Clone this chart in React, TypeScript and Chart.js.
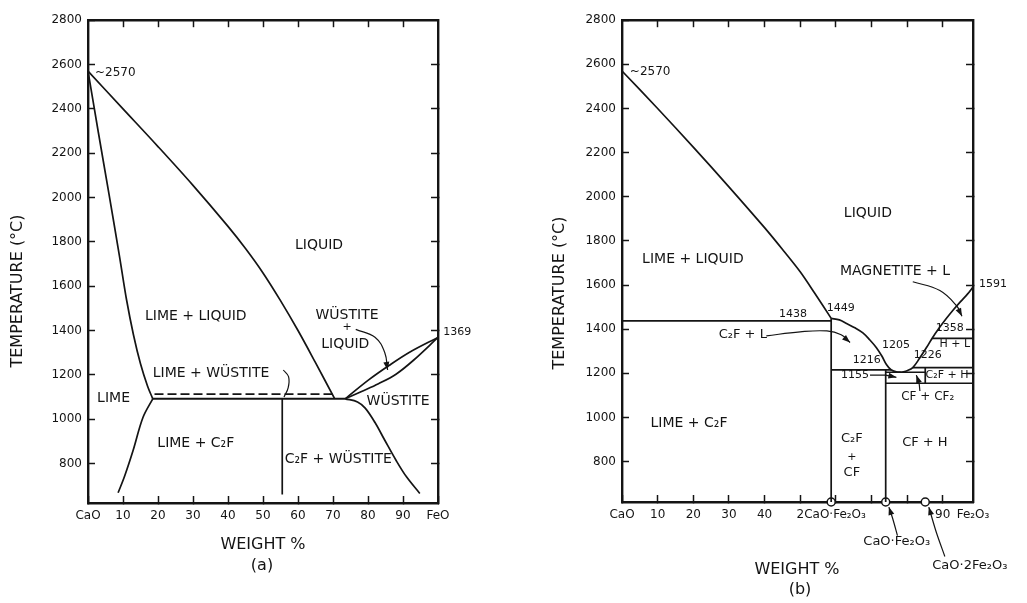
import React, { useEffect, useRef } from "react";
import { Chart, registerables } from "chart.js";
Chart.register(...registerables);

const FONT = "'DejaVu Sans', 'Liberation Sans', sans-serif";
const INK = "#141414";

// ---------- shared ticks ----------
const tempTicks = [800, 1000, 1200, 1400, 1600, 1800, 2000, 2200, 2400, 2600, 2800];
const tempTickLabels = ["800", "1000", "1200", "1400", "1600", "1800", "2000", "2200", "2400", "2600", "2800"];
const sideTempTicks = [800, 1000, 1200, 1400, 1600, 1800, 2000, 2200, 2400, 2600];
const topWeightTicks = [10, 20, 30, 40, 50, 60, 70, 80, 90];

// ---------- panel (a): CaO - FeO ----------
const aWeightTicks = [0, 10, 20, 30, 40, 50, 60, 70, 80, 90, 100];
const aWeightLabels = ["CaO", "10", "20", "30", "40", "50", "60", "70", "80", "90", "FeO"];

const aLiquidusX = [0, 10, 20, 30, 40, 45, 50, 55, 60, 65, 70.5];
const aLiquidusT = [2570, 2400, 2230, 2055, 1870, 1770, 1660, 1535, 1400, 1255, 1092];
const aLimeLiqX = [0, 3, 6, 9, 11, 13, 15, 17, 18.5];
const aLimeLiqT = [2570, 2290, 2015, 1735, 1540, 1380, 1250, 1150, 1092];
const aLimeSolvX = [18.5, 15.7, 12.9, 10.5, 8.6];
const aLimeSolvT = [1092, 1008, 860, 745, 668];
const aEutecticX = [18.5, 73.5];
const aEutecticT = [1092, 1092];
const aDashX = [19, 71];
const aDashT = [1113, 1113];
const aC2FX = [55.5, 55.5];
const aC2FT = [1092, 660];
const aWusSolvX = [73.5, 77, 79.2, 82, 84.8, 88, 91, 94.8];
const aWusSolvT = [1092, 1078, 1050, 985, 905, 815, 740, 665];
const aWusLiqX = [73.5, 80, 86, 92, 100];
const aWusLiqT = [1092, 1175, 1242, 1303, 1369];
const aWusSolX = [73.5, 78, 83, 88, 93, 100];
const aWusSolT = [1092, 1124, 1160, 1203, 1266, 1369];
const aArrowWLX = [76.5, 82, 84.8, 85.6];
const aArrowWLT = [1405, 1370, 1300, 1222];
const aBracketX = [55.8, 57.3, 57.2, 56];
const aBracketT = [1222, 1192, 1142, 1100];

// ---------- panel (b): CaO - Fe2O3 ----------
const bWeightTicks = [0, 10, 20, 30, 40, 50, 58.7, 60, 70, 80, 90, 98.5];
const bWeightLabels = ["CaO", "10", "20", "30", "40", "", "2CaO·Fe₂O₃", "", "", "", "90", "Fe₂O₃"];
const bHiddenTickMarks = [58.7, 98.5];

const bLiquidusX = [0, 10, 20, 30, 40, 45, 50, 54, 58.7];
const bLiquidusT = [2570, 2400, 2225, 2045, 1860, 1762, 1660, 1565, 1449];
const b1438X = [0, 58.7];
const b1438T = [1438, 1438];
const bC2FX = [58.7, 58.7];
const bC2FT = [1449, 617];
const bLiqC2FX = [58.7, 61, 63, 65.5, 67.6, 69.5, 71.4, 73, 74.2, 75.5, 77, 78.5];
const bLiqC2FT = [1449, 1442, 1426, 1405, 1383, 1352, 1316, 1276, 1240, 1216, 1207, 1205];
const bLiqHemX = [78.5, 80, 81.6, 83.5, 85.5, 87, 89, 91, 93, 95, 97, 98.5];
const bLiqHemT = [1205, 1212, 1226, 1268, 1318, 1358, 1405, 1448, 1488, 1525, 1560, 1591];
const b1216X = [58.7, 75.5];
const b1216T = [1216, 1216];
const bCFX = [74, 74];
const bCFT = [1216, 617];
const b1205X = [74, 85.1];
const b1205T = [1205, 1205];
const b1226X = [81.6, 98.5];
const b1226T = [1226, 1226];
const bCF2X = [85.1, 85.1];
const bCF2T = [1226, 1155];
const b1155X = [74, 98.5];
const b1155T = [1155, 1155];
const b1358X = [87, 98.5];
const b1358T = [1358, 1358];
const bArrowC2FLX = [40.5, 50, 57.5, 61.5, 64];
const bArrowC2FLT = [1370, 1388, 1392, 1375, 1340];
const bLead1155X = [69.6, 74, 77];
const bLead1155T = [1192, 1192, 1182];
const bArrowMagX = [81.6, 89.2, 94, 95.4];
const bArrowMagT = [1615, 1575, 1504, 1459];
const bLeadCFCF2X = [83.6, 83.3, 82.6];
const bLeadCFCF2T = [1120, 1160, 1192];
const bLeadCFX = [77.3, 76, 74.9];
const bLeadCFT = [465, 540, 594];
const bLeadCF2X = [90.6, 88.2, 86.1];
const bLeadCF2T = [370, 480, 594];
const bCompoundX = [58.7, 74, 85.1];
const bCompoundT = [617, 617, 617];

type Ann = { text: string; x: number; y: number; size: number; align?: CanvasTextAlign };
type PixText = { text: string; px: number; py: number; size: number; rotate?: boolean };

const aAnnotations: Ann[] = [
  { text: "~2570", x: 2, y: 2564, size: 12, align: "left" },
  { text: "LIQUID", x: 66, y: 1784, size: 14 },
  { text: "LIME + LIQUID", x: 30.8, y: 1464, size: 14 },
  { text: "WÜSTITE", x: 74, y: 1468, size: 14 },
  { text: "+", x: 74, y: 1415, size: 11 },
  { text: "LIQUID", x: 73.5, y: 1339, size: 14 },
  { text: "LIME", x: 7.3, y: 1094, size: 14 },
  { text: "LIME + WÜSTITE", x: 18.5, y: 1205, size: 14, align: "left" },
  { text: "LIME + C₂F", x: 30.8, y: 889, size: 14 },
  { text: "WÜSTITE", x: 88.6, y: 1081, size: 14 },
  { text: "C₂F + WÜSTITE", x: 71.5, y: 818, size: 14 },
  { text: "1369", x: 101.5, y: 1393, size: 11, align: "left" },
];
const aPixTexts: PixText[] = [
  { text: "TEMPERATURE (°C)", px: 18, py: 291, size: 16, rotate: true },
  { text: "WEIGHT %", px: 263, py: 545, size: 16 },
  { text: "(a)", px: 262, py: 566, size: 16 },
];

const bAnnotations: Ann[] = [
  { text: "~2570", x: 2.2, y: 2564, size: 12, align: "left" },
  { text: "LIQUID", x: 69, y: 1923, size: 14 },
  { text: "LIME + LIQUID", x: 19.9, y: 1718, size: 14 },
  { text: "MAGNETITE + L", x: 76.6, y: 1660, size: 14 },
  { text: "1591", x: 100.2, y: 1606, size: 11, align: "left" },
  { text: "1449", x: 61.4, y: 1495, size: 11 },
  { text: "1438", x: 48, y: 1468, size: 11 },
  { text: "C₂F + L", x: 33.9, y: 1375, size: 13 },
  { text: "1205", x: 76.9, y: 1326, size: 11 },
  { text: "1216", x: 68.7, y: 1259, size: 11 },
  { text: "1226", x: 85.8, y: 1281, size: 11 },
  { text: "1358", x: 92, y: 1406, size: 11 },
  { text: "H + L", x: 93.4, y: 1330, size: 11 },
  { text: "C₂F + H", x: 91.2, y: 1190, size: 11 },
  { text: "1155", x: 65.4, y: 1192, size: 11 },
  { text: "CF + CF₂", x: 85.8, y: 1094, size: 12 },
  { text: "CF + H", x: 85, y: 885, size: 13 },
  { text: "C₂F", x: 64.5, y: 902, size: 13 },
  { text: "+", x: 64.5, y: 822, size: 11 },
  { text: "CF", x: 64.5, y: 752, size: 13 },
  { text: "LIME + C₂F", x: 18.8, y: 974, size: 14 },
  { text: "CaO·Fe₂O₃", x: 77.1, y: 439, size: 13 },
  { text: "CaO·2Fe₂O₃", x: 97.6, y: 327, size: 13 },
];
const bPixTexts: PixText[] = [
  { text: "TEMPERATURE (°C)", px: 45, py: 293, size: 16, rotate: true },
  { text: "WEIGHT %", px: 282, py: 570, size: 16 },
  { text: "(b)", px: 285, py: 590, size: 16 },
];

function seg(xs: number[], ys: number[], extra: any = {}) {
  return {
    data: xs.map((x, i) => ({ x, y: ys[i] })),
    showLine: true,
    borderColor: INK,
    backgroundColor: INK,
    borderWidth: 1.7,
    pointRadius: 0,
    pointHoverRadius: 0,
    tension: 0,
    clip: false,
    ...extra,
  };
}

type Spec = {
  width: number;
  leftW: number;
  rightW: number;
  topH: number;
  bottomH: number;
  xMax: number;
  yMin: number;
  xTicks: number[];
  xLabels: string[];
  hiddenTicks: number[];
  datasets: any[];
  anns: Ann[];
  pix: PixText[];
};

const panelA: Spec = {
  width: 515,
  leftW: 88,
  rightW: 77,
  topH: 14,
  bottomH: 100,
  xMax: 100,
  yMin: 622,
  xTicks: aWeightTicks,
  xLabels: aWeightLabels,
  hiddenTicks: [],
  datasets: [
    seg(aLiquidusX, aLiquidusT, { tension: 0.35 }),
    seg(aLimeLiqX, aLimeLiqT, { tension: 0.3 }),
    seg(aLimeSolvX, aLimeSolvT, { tension: 0.35 }),
    seg(aEutecticX, aEutecticT, { borderWidth: 2 }),
    seg(aDashX, aDashT, { borderDash: [9, 4], borderWidth: 1.6 }),
    seg(aC2FX, aC2FT),
    seg(aWusSolvX, aWusSolvT, { tension: 0.35 }),
    seg(aWusLiqX, aWusLiqT, { tension: 0.35 }),
    seg(aWusSolX, aWusSolT, { tension: 0.35 }),
    seg(aArrowWLX, aArrowWLT, { tension: 0.4, borderWidth: 1.2, arrow: true }),
    seg(aBracketX, aBracketT, { tension: 0.4, borderWidth: 1.2 }),
  ],
  anns: aAnnotations,
  pix: aPixTexts,
};

const panelB: Spec = {
  width: 512,
  leftW: 107,
  rightW: 54,
  topH: 12,
  bottomH: 101,
  xMax: 98.5,
  yMin: 617,
  xTicks: bWeightTicks,
  xLabels: bWeightLabels,
  hiddenTicks: bHiddenTickMarks,
  datasets: [
    seg(bLiquidusX, bLiquidusT, { tension: 0.3 }),
    seg(b1438X, b1438T),
    seg(bC2FX, bC2FT),
    seg(bLiqC2FX, bLiqC2FT, { tension: 0.35 }),
    seg(bLiqHemX, bLiqHemT, { tension: 0.35 }),
    seg(b1216X, b1216T),
    seg(bCFX, bCFT),
    seg(b1205X, b1205T),
    seg(b1226X, b1226T),
    seg(bCF2X, bCF2T),
    seg(b1155X, b1155T),
    seg(b1358X, b1358T),
    seg(bArrowC2FLX, bArrowC2FLT, { tension: 0.4, borderWidth: 1.2, arrow: true }),
    seg(bLead1155X, bLead1155T, { borderWidth: 1.2, arrow: true }),
    seg(bArrowMagX, bArrowMagT, { tension: 0.4, borderWidth: 1.2, arrow: true }),
    seg(bLeadCFCF2X, bLeadCFCF2T, { tension: 0.4, borderWidth: 1.2, arrow: true }),
    seg(bLeadCFX, bLeadCFT, { tension: 0.3, borderWidth: 1.2, arrow: true }),
    seg(bLeadCF2X, bLeadCF2T, { tension: 0.3, borderWidth: 1.2, arrow: true }),
    {
      data: bCompoundX.map((x, i) => ({ x, y: bCompoundT[i] })),
      showLine: false,
      pointRadius: 4,
      pointHoverRadius: 4,
      pointStyle: "circle",
      pointBackgroundColor: "#ffffff",
      pointBorderColor: INK,
      pointBorderWidth: 1.5,
      clip: false,
    },
  ],
  anns: bAnnotations,
  pix: bPixTexts,
};

function buildConfig(spec: Spec): any {
  const tickFont = { family: FONT, size: 12 };
  const border = { display: true, color: INK, width: 2.4 };
  const gridBase = { drawOnChartArea: false, drawTicks: true, tickLength: -7, tickWidth: 1.5 };

  const textPlugin = {
    id: "phaseTexts",
    afterDatasetsDraw(chart: any) {
      const ctx = chart.ctx;
      ctx.save();
      ctx.fillStyle = INK;
      chart.data.datasets.forEach((ds: any, i: number) => {
        if (!ds.arrow) return;
        const pts = chart.getDatasetMeta(i).data;
        if (pts.length < 2) return;
        const p2 = pts[pts.length - 1];
        const p1 = pts[pts.length - 2];
        const ang = Math.atan2(p2.y - p1.y, p2.x - p1.x);
        const len = 8;
        const hw = 3;
        ctx.beginPath();
        ctx.moveTo(p2.x, p2.y);
        ctx.lineTo(p2.x - len * Math.cos(ang) + hw * Math.sin(ang), p2.y - len * Math.sin(ang) - hw * Math.cos(ang));
        ctx.lineTo(p2.x - len * Math.cos(ang) - hw * Math.sin(ang), p2.y - len * Math.sin(ang) + hw * Math.cos(ang));
        ctx.closePath();
        ctx.fill();
      });
      ctx.restore();
    },
    afterDraw(chart: any) {
      const ctx = chart.ctx;
      const xs = chart.scales.x;
      const ys = chart.scales.y;
      ctx.save();
      ctx.fillStyle = INK;
      ctx.textBaseline = "middle";
      for (const a of spec.anns) {
        ctx.font = `${a.size}px ${FONT}`;
        ctx.textAlign = a.align || "center";
        ctx.fillText(a.text, xs.getPixelForValue(a.x), ys.getPixelForValue(a.y));
      }
      for (const t of spec.pix) {
        ctx.font = `${t.size}px ${FONT}`;
        ctx.textAlign = "center";
        if (t.rotate) {
          ctx.save();
          ctx.translate(t.px, t.py);
          ctx.rotate(-Math.PI / 2);
          ctx.fillText(t.text, 0, 0);
          ctx.restore();
        } else {
          ctx.fillText(t.text, t.px, t.py);
        }
      }
      ctx.restore();
    },
  };

  return {
    type: "scatter",
    data: { datasets: spec.datasets },
    options: {
      responsive: false,
      maintainAspectRatio: false,
      animation: false,
      devicePixelRatio: 1,
      layout: { padding: 0 },
      plugins: { legend: { display: false }, tooltip: { enabled: false } },
      events: [],
      scales: {
        x: {
          type: "linear",
          position: "bottom",
          min: 0,
          max: spec.xMax,
          afterBuildTicks: (s: any) => {
            s.ticks = spec.xTicks.map((v) => ({ value: v }));
          },
          afterFit: (s: any) => {
            s.height = spec.bottomH;
          },
          ticks: {
            autoSkip: false,
            maxRotation: 0,
            minRotation: 0,
            padding: 13,
            color: INK,
            font: tickFont,
            callback: (_v: any, i: number) => spec.xLabels[i],
          },
          grid: {
            ...gridBase,
            tickColor: (ctx: any) =>
              ctx.tick && spec.hiddenTicks.includes(ctx.tick.value) ? "rgba(0,0,0,0)" : INK,
          },
          border,
        },
        xTop: {
          type: "linear",
          axis: "x",
          position: "top",
          min: 0,
          max: spec.xMax,
          afterBuildTicks: (s: any) => {
            s.ticks = topWeightTicks.map((v) => ({ value: v }));
          },
          afterFit: (s: any) => {
            s.height = spec.topH;
          },
          ticks: { callback: () => "", padding: 0 },
          grid: { ...gridBase, tickColor: INK },
          border,
        },
        y: {
          type: "linear",
          position: "left",
          min: spec.yMin,
          max: 2800,
          afterBuildTicks: (s: any) => {
            s.ticks = tempTicks.map((v) => ({ value: v }));
          },
          afterFit: (s: any) => {
            s.width = spec.leftW;
          },
          ticks: {
            padding: 13,
            color: INK,
            font: tickFont,
            callback: (_v: any, i: number) => tempTickLabels[i],
          },
          grid: { ...gridBase, tickColor: INK },
          border,
        },
        yRight: {
          type: "linear",
          axis: "y",
          position: "right",
          min: spec.yMin,
          max: 2800,
          afterBuildTicks: (s: any) => {
            s.ticks = sideTempTicks.map((v) => ({ value: v }));
          },
          afterFit: (s: any) => {
            s.width = spec.rightW;
          },
          ticks: { callback: () => "", padding: 0 },
          grid: { ...gridBase, tickColor: INK },
          border,
        },
      },
    },
    plugins: [textPlugin],
  };
}

function Panel({ spec, left }: { spec: Spec; left: number }) {
  const ref = useRef<HTMLCanvasElement | null>(null);
  useEffect(() => {
    if (!ref.current) return;
    const chart = new Chart(ref.current, buildConfig(spec));
    return () => chart.destroy();
  }, [spec]);
  return (
    <canvas
      ref={ref}
      width={spec.width}
      height={603}
      style={{ position: "absolute", left, top: 0, width: spec.width, height: 603 }}
    />
  );
}

export default function App() {
  return (
    <div
      style={{
        position: "absolute",
        left: 0,
        top: 0,
        width: 1027,
        height: 603,
        background: "#ffffff",
        overflow: "hidden",
      }}
    >
      <Panel spec={panelA} left={0} />
      <Panel spec={panelB} left={515} />
    </div>
  );
}
